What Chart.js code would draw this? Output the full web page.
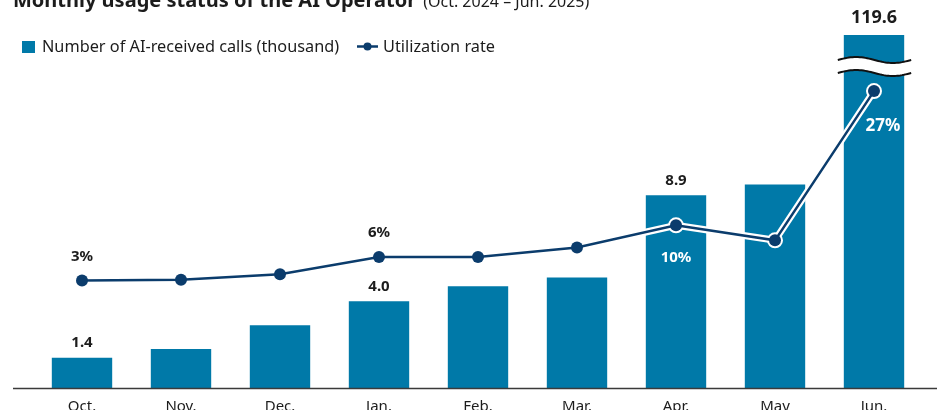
<!DOCTYPE html>
<html>
<head>
<meta charset="utf-8">
<script src="https://cdn.jsdelivr.net/npm/chart.js@4.4.1/dist/chart.umd.min.js"></script>
<style>
  html, body { margin: 0; padding: 0; background: #fff; overflow: hidden; }
  #wrap { position: relative; width: 937px; height: 426px; }
</style>
</head>
<body>
<div id="wrap"><canvas id="myChart"></canvas></div>
<script>
const months = ["Oct.", "Nov.", "Dec.", "Jan.", "Feb.", "Mar.", "Apr.", "May", "Jun."];
const calls = [1.4, 1.8, 2.9, 4.0, 4.7, 5.1, 8.9, 9.4, 119.6];
const usageRate = [3, 3.1, 3.8, 6, 6, 7.2, 10, 8.1, 27];

// which months get a printed value
const callsShown = [0, 3, 6, 8];
const rateShown = [0, 3, 6, 8];

const titleMain = "Monthly usage status of the AI Operator";
const titleSub = "(Oct. 2024 – Jun. 2025)";
const callsName = "Number of AI-received calls (thousand)";
const rateName = "Utilization rate";

const BAR = "#0079a8";
const LINE = "#0b3c6c";
const INK = "#1c1c1c";
const FONT = "'Noto Sans', sans-serif";

const ctx = document.getElementById("myChart");

// title + legend sit above / over the plot, drawn by hand
const headerPlugin = {
  id: "header",
  afterDraw(chart) {
    const c = chart.ctx;
    c.save();
    c.fillStyle = INK;
    c.textBaseline = "alphabetic";
    c.font = `bold 20px ${FONT}`;
    c.fillText(titleMain, 13, 7);
    const w = c.measureText(titleMain).width;
    c.font = `16px ${FONT}`;
    c.fillText(titleSub, 13 + w + 7, 7);

    // legend
    c.fillStyle = BAR;
    c.fillRect(22, 41, 13, 12);
    c.fillStyle = INK;
    c.textBaseline = "middle";
    c.font = `16.3px ${FONT}`;
    c.fillText(callsName, 42, 47);

    c.strokeStyle = LINE;
    c.lineWidth = 2.5;
    c.beginPath();
    c.moveTo(357, 46.5);
    c.lineTo(378, 46.5);
    c.stroke();
    c.fillStyle = LINE;
    c.beginPath();
    c.arc(367.5, 46.5, 4, 0, Math.PI * 2);
    c.fill();
    c.fillStyle = INK;
    c.fillText(rateName, 383, 47);
    c.restore();
  },
};

// axis line, value labels and the break mark on the tall bar
const annotatePlugin = {
  id: "annotate",
  afterDatasetsDraw(chart) {
    const c = chart.ctx;
    const area = chart.chartArea;
    const bars = chart.getDatasetMeta(0).data;
    const dots = chart.getDatasetMeta(2).data;
    const y0 = chart.scales.y.getPixelForValue(0);

    c.save();
    c.strokeStyle = "#3a3a3a";
    c.lineWidth = 1.5;
    c.beginPath();
    c.moveTo(13, y0 + 0.5);
    c.lineTo(chart.width, y0 + 0.5);
    c.stroke();

    // break on the last bar
    const last = bars[bars.length - 1];
    const bx0 = last.x - last.width / 2 - 6;
    const bx1 = last.x + last.width / 2 + 7;
    const up = area.top + 25;
    const dn = area.top + 38;
    const wave = (cy, t) => cy - 3 * Math.sin(2 * Math.PI * t);
    const N = 40;
    c.fillStyle = "#fff";
    c.beginPath();
    for (let i = 0; i <= N; i++) {
      const t = i / N;
      c.lineTo(bx0 + (bx1 - bx0) * t, wave(up, t));
    }
    for (let i = N; i >= 0; i--) {
      const t = i / N;
      c.lineTo(bx0 + (bx1 - bx0) * t, wave(dn, t));
    }
    c.closePath();
    c.fill();
    c.strokeStyle = "#111";
    c.lineWidth = 2;
    [up, dn].forEach((cy) => {
      c.beginPath();
      for (let i = 0; i <= N; i++) {
        const t = i / N;
        const x = bx0 + (bx1 - bx0) * t;
        i ? c.lineTo(x, wave(cy, t)) : c.moveTo(x, wave(cy, t));
      }
      c.stroke();
    });

    c.textAlign = "center";
    c.textBaseline = "middle";

    // bar values
    callsShown.forEach((i) => {
      const b = bars[i];
      const big = i === calls.length - 1;
      c.fillStyle = INK;
      c.font = `bold ${big ? 18 : 15}px ${FONT}`;
      const top = Math.max(b.y, area.top);
      c.fillText(calls[i].toFixed(1), b.x, top - (big ? 17 : 15));
    });

    // rate values: above the dot when clear of bars, inside the bar otherwise
    rateShown.forEach((i) => {
      const p = dots[i];
      const onBar = bars[i].y < p.y + 20;
      c.fillStyle = onBar ? "#fff" : INK;
      if (i === usageRate.length - 1) {
        c.font = `bold 17px ${FONT}`;
        c.fillText(usageRate[i] + "%", p.x + 9, p.y + 35);
      } else {
        c.font = `bold 15px ${FONT}`;
        c.fillText(usageRate[i] + "%", p.x, onBar ? p.y + 32 : p.y - 24);
      }
    });
    c.restore();
  },
};

new Chart(ctx, {
  type: "bar",
  data: {
    labels: months,
    datasets: [
      {
        label: callsName,
        data: calls,
        backgroundColor: BAR,
        yAxisID: "y",
        categoryPercentage: 1,
        barPercentage: 0.61,
        clip: 0,
        order: 3,
      },
      {
        // white casing under the rate line
        type: "line",
        data: usageRate,
        yAxisID: "y2",
        borderColor: "#fff",
        borderWidth: 7,
        pointRadius: 8,
        pointBackgroundColor: "#fff",
        pointBorderWidth: 0,
        tension: 0,
        clip: false,
        order: 2,
      },
      {
        type: "line",
        label: rateName,
        data: usageRate,
        yAxisID: "y2",
        borderColor: LINE,
        borderWidth: 2.5,
        pointRadius: 6,
        pointBackgroundColor: LINE,
        pointBorderWidth: 0,
        tension: 0,
        clip: false,
        order: 1,
      },
    ],
  },
  options: {
    responsive: true,
    maintainAspectRatio: false,
    animation: false,
    layout: { padding: { top: 35, left: 32.5, right: 13.5, bottom: 0 } },
    plugins: {
      legend: { display: false },
      title: { display: false },
      tooltip: { enabled: false },
    },
    scales: {
      x: {
        offset: true,
        grid: { display: false, drawTicks: false },
        border: { display: false },
        ticks: {
          padding: 10,
          color: INK,
          font: { family: "'Noto Sans', sans-serif", size: 15 },
        },
      },
      y: { display: false, min: 0, max: 16.3 },
      y2: { display: false, min: -10.6, max: 34.1 },
    },
  },
  plugins: [headerPlugin, annotatePlugin],
});
</script>
</body>
</html>
